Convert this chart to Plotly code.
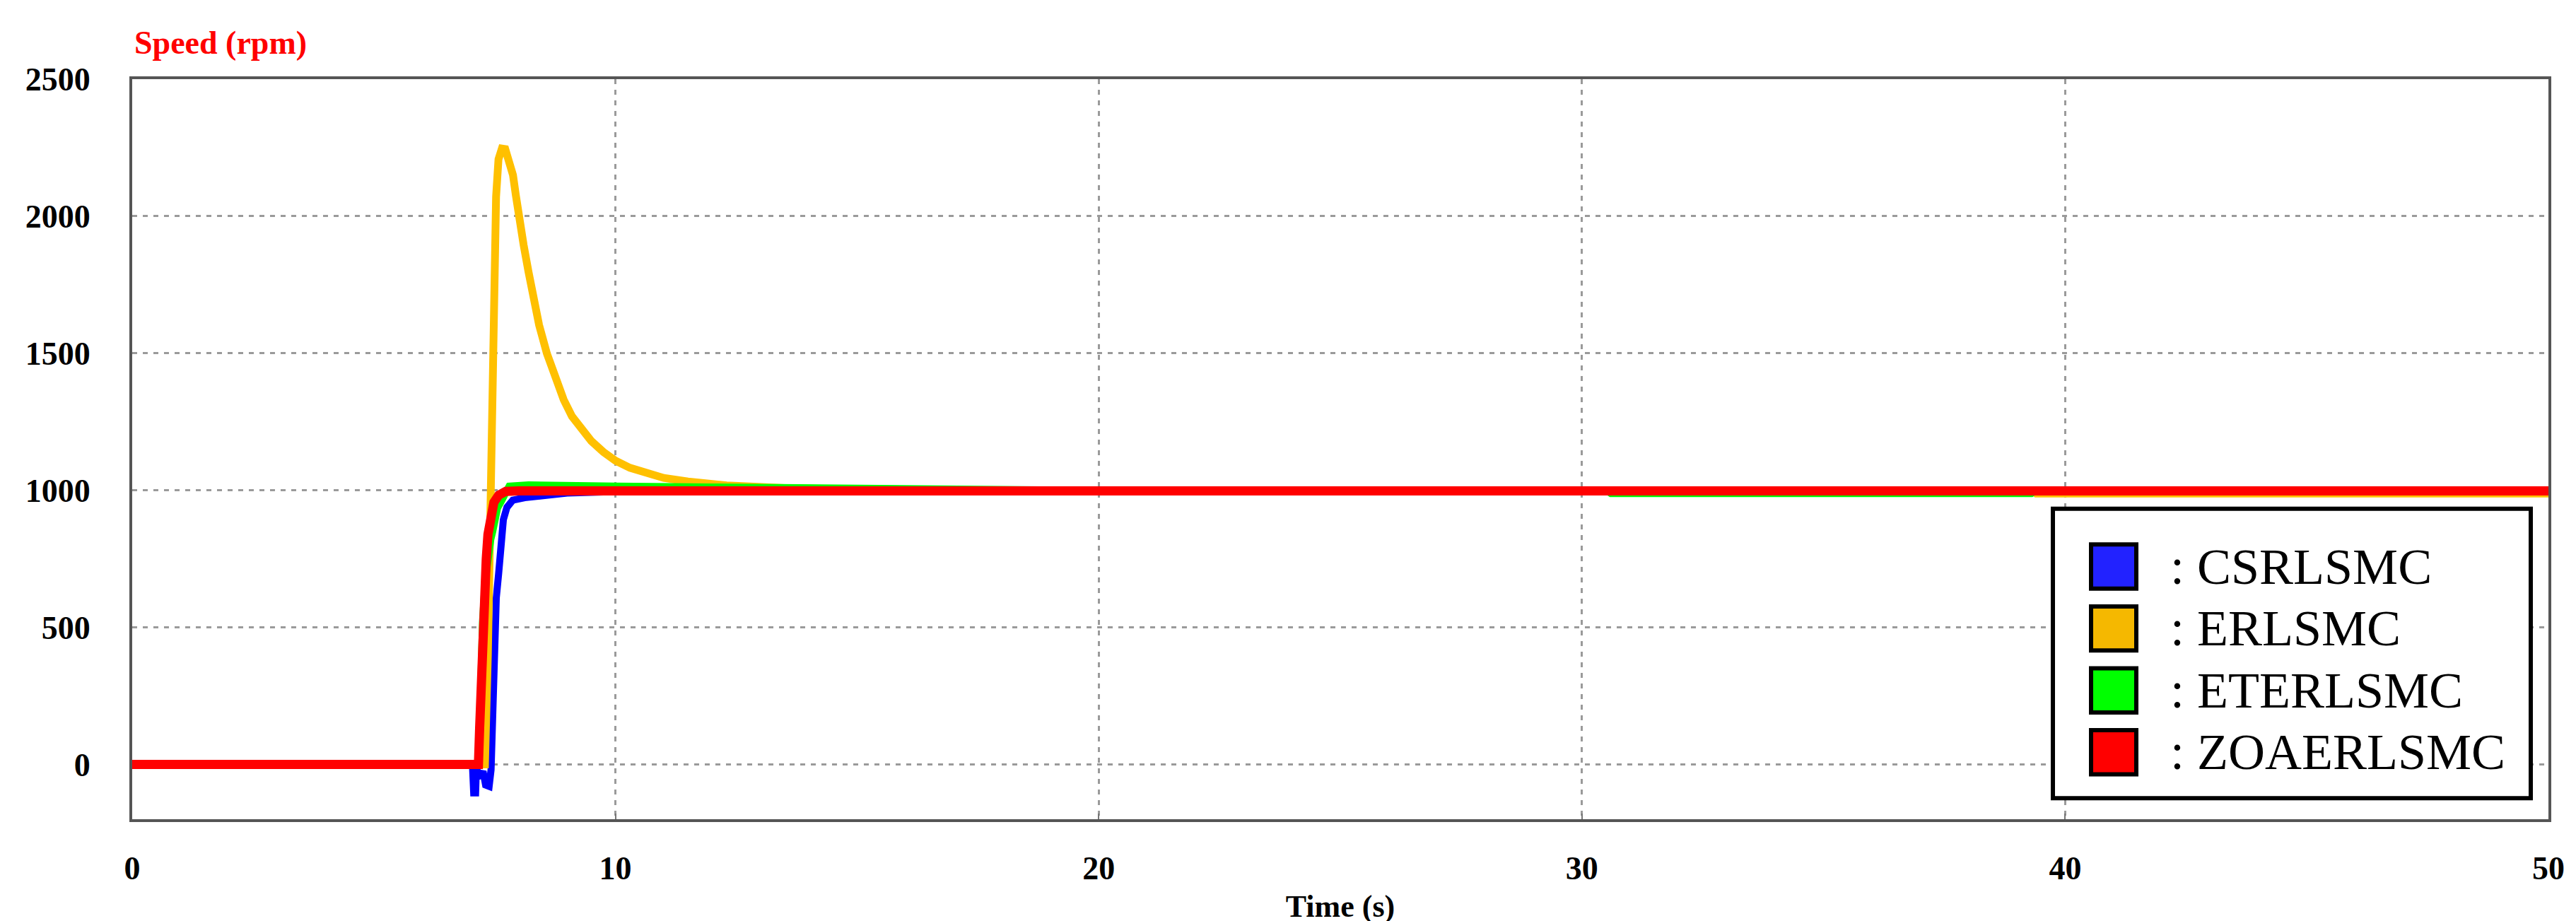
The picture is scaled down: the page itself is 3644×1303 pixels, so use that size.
import plotly.graph_objects as go

# ---------------- data ----------------
series_names = ["CSRLSMC", "ERLSMC", "ETERLSMC", "ZOAERLSMC"]

t_csr = [0, 7.04, 7.067, 7.106, 7.126, 7.15, 7.215, 7.26, 7.313, 7.386, 7.426, 7.445,
         7.46, 7.485, 7.534, 7.583, 7.622, 7.681, 7.755, 7.877, 8.123, 8.417, 9.0, 10, 20, 30, 40, 50]
v_csr = [3, 3, -104, -104, 5, -45, -40, -25, -75, -80, -20, 85,
         338, 446, 607, 696, 804, 893, 938, 964, 973, 978, 990, 995, 997, 997, 997, 997]

t_er = [0, 7.30, 7.36, 7.40, 7.43, 7.46, 7.49, 7.53, 7.58, 7.65, 7.72, 7.78, 7.83, 7.88, 7.94,
        8.0, 8.1, 8.2, 8.3, 8.42, 8.58, 8.76, 8.93, 9.1, 9.3, 9.5, 9.75, 10.0, 10.3,
        10.6, 11.0, 11.5, 12.3, 13.5, 16, 39.3, 39.4, 50]
v_er = [0, 0, 400, 860, 1170, 1560, 1886, 2071, 2208, 2247, 2245, 2215, 2180, 2150, 2075,
        1993, 1895, 1798, 1700, 1603, 1500, 1407, 1330, 1270, 1220, 1180, 1140, 1108, 1082,
        1064, 1045, 1032, 1018, 1008, 1000, 1000, 988, 988]

t_eter = [0, 7.16, 7.19, 7.22, 7.25, 7.30, 7.36, 7.42, 7.46, 7.52, 7.56, 7.64, 7.73, 7.80,
          8.2, 8.9, 10, 12, 16, 20, 30.5, 30.6, 39.3, 39.4, 50]
v_eter = [0, 0, 130, 380, 520, 660, 760, 820, 850, 900, 935, 960, 985, 1015,
          1020, 1020, 1015, 1012, 1005, 1000, 1000, 988, 988, 1000, 1000]

t_zoa = [0, 7.165, 7.19, 7.229, 7.249, 7.288, 7.327, 7.362, 7.411, 7.485, 7.583, 7.73, 8.0, 10, 20, 30, 40, 50]
v_zoa = [0, 0, 133, 366, 517, 660, 750, 839, 911, 956, 982, 996, 998, 998, 998, 998, 998, 998]

x_ticks = [0, 10, 20, 30, 40, 50]
y_ticks = [0, 500, 1000, 1500, 2000, 2500]

line_colors = ["#0000ff", "#ffc000", "#00ff00", "#ff0000"]
legend_fill = ["#2222ff", "#f5b800", "#00ff00", "#ff0000"]
line_widths = [10, 11, 10, 13]

# ---------------- figure ----------------
W, H = 3644, 1303
L, R, T, B = 179, 47, 104, 143
pw, ph = W - L - R, H - T - B

def px_x(px):
    return (px - L) / pw

def px_y(py):
    return (H - B - py) / ph

FONT = "Liberation Serif, Times New Roman, serif"

fig = go.Figure()
all_t = [t_csr, t_er, t_eter, t_zoa]
all_v = [v_csr, v_er, v_eter, v_zoa]
for name, tt, vv, c, w in zip(series_names, all_t, all_v, line_colors, line_widths):
    fig.add_trace(go.Scatter(x=tt, y=vv, mode="lines", name=name,
                             line=dict(color=c, width=w), showlegend=False))

grid = dict(showgrid=True, gridcolor="#9a9a9a", gridwidth=3, griddash="7px,8px",
            showline=True, linecolor="#555555", linewidth=4, mirror=True,
            zeroline=False)

fig.update_layout(
    width=W, height=H,
    margin=dict(l=L, r=R, t=T, b=B, pad=0),
    paper_bgcolor="white", plot_bgcolor="white",
    showlegend=False,
    xaxis=dict(range=[0, 50], tickvals=x_ticks, ticks="inside", ticklen=8,
               tickcolor="#777777", tickwidth=2,
               tickfont=dict(family=FONT, size=46, color="black", weight="bold"),
               ticklabelstandoff=26,
               title=dict(text="Time (s)", standoff=14,
                          font=dict(family=FONT, size=44, color="black", weight="bold")),
               **grid),
    yaxis=dict(range=[-200, 2500], tickvals=y_ticks, ticks="",
               tickfont=dict(family=FONT, size=46, color="black", weight="bold"),
               ticklabelstandoff=46,
               **grid),
)

fig.add_annotation(xref="paper", yref="paper", x=px_x(180), y=px_y(52),
                   xanchor="left", yanchor="middle", showarrow=False,
                   text="Speed (rpm)",
                   font=dict(family=FONT, size=46, color="#ff0000", weight="bold"))

# ---------------- legend box (drawn manually to get square swatches) ----------------
box_l, box_r, box_t, box_b = 2896, 3572, 717, 1130
fig.add_shape(type="rect", xref="paper", yref="paper",
              x0=px_x(box_l), x1=px_x(box_r), y0=px_y(box_b), y1=px_y(box_t),
              line=dict(color="black", width=6), fillcolor="white", layer="above")
row0, row_step, sw_l, sw_w, sw_h = 799.5, 88.3, 2950, 64, 63
for i, (name, fc) in enumerate(zip(series_names, legend_fill)):
    cy = row0 + i * row_step
    fig.add_shape(type="rect", xref="paper", yref="paper",
                  x0=px_x(sw_l), x1=px_x(sw_l + sw_w),
                  y0=px_y(cy + sw_h / 2), y1=px_y(cy - sw_h / 2),
                  line=dict(color="black", width=6), fillcolor=fc, layer="above")
    fig.add_annotation(xref="paper", yref="paper", x=px_x(3060), y=px_y(cy),
                       xanchor="left", yanchor="middle", showarrow=False,
                       text=": " + name,
                       font=dict(family=FONT, size=72, color="black"))

fig.write_html("out.html")
